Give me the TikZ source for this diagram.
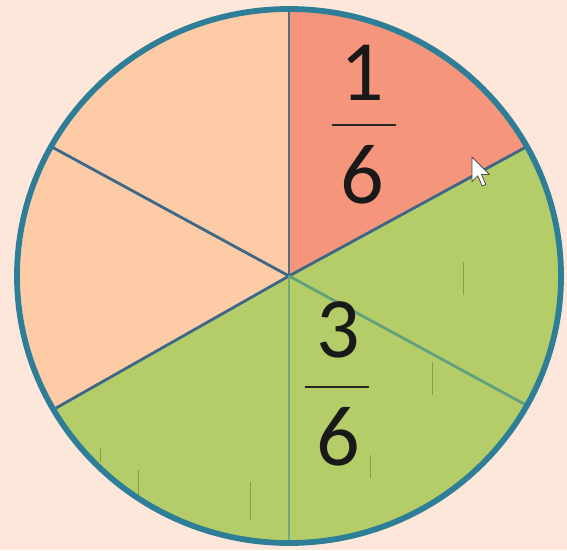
\documentclass[tikz,border=0pt]{standalone}
\usepackage{fontspec}
\setmainfont{Carlito}
\usetikzlibrary{calc}
\definecolor{bgc}{HTML}{FCE7DA}
\definecolor{peach}{HTML}{FDCBA5}
\definecolor{salmon}{HTML}{F5967C}
\definecolor{leaf}{HTML}{B5CD68}
\definecolor{rim}{HTML}{2F7E98}
\definecolor{spokedark}{HTML}{3D6788}
\definecolor{spokegreen}{HTML}{6FAA78}
\definecolor{tick}{HTML}{7C8A3A}
\tikzset{
  spoke/.style={line width=2.8pt},
  fracnum/.style={inner sep=0pt, font=\fontsize{86}{90}\selectfont, text=black!90},
  tickmark/.style={draw=tick, line width=0.9pt, opacity=0.7},
}
\begin{document}
\begin{tikzpicture}[x=1pt,y=1pt]
\fill[bgc] (0,0) rectangle (567,550);
\useasboundingbox (0,0) rectangle (567,550);
\coordinate (c) at (289,274);
\def\rx{272}
\def\ry{267}
% sectors
\fill[peach] (c) -- ++(90:{\rx} and {\ry}) arc[start angle=90, end angle=210, x radius=\rx, y radius=\ry] -- cycle;
\fill[salmon] (c) -- ++(29:{\rx} and {\ry}) arc[start angle=29, end angle=90, x radius=\rx, y radius=\ry] -- cycle;
\fill[leaf] (c) -- ++(210:{\rx} and {\ry}) arc[start angle=210, end angle=389, x radius=\rx, y radius=\ry] -- cycle;
% artifact ticks
\draw[tickmark] (463,288) -- (463,255);
\draw[tickmark] (432,188) -- (432,155);
\draw[tickmark] (370,95) -- (370,72);
\draw[tickmark] (250,68) -- (250,30);
\draw[tickmark] (138,80) -- (138,52);
\draw[tickmark] (100,102) -- (100,88);
% spokes
\coordinate (top) at ($(c)+(90:{\rx} and {\ry})$);
\coordinate (bot) at ($(c)+(-90:{\rx} and {\ry})$);
\coordinate (ul) at ($(c)+(151:{\rx} and {\ry})$);
\coordinate (ur) at ($(c)+(29:{\rx} and {\ry})$);
\coordinate (ll) at ($(c)+(210:{\rx} and {\ry})$);
\coordinate (lr) at ($(c)+(-29:{\rx} and {\ry})$);
\draw[spoke, draw=spokedark!70!gray] (c) -- (top);
\draw[spoke, draw=spokedark] (c) -- (ul);
\draw[spoke, draw=spokedark] (c) -- (ur);
\draw[spoke, draw=spokedark] (c) -- (ll);
\draw[spoke, draw=spokegreen] (c) -- (bot);
\draw[spoke, draw=spokegreen!80!rim] (c) -- (lr);
% rim
\draw[rim, line width=5.8pt] (c) ellipse[x radius=\rx, y radius=\ry];
% fractions
\node[fracnum] (n1) at (362,477) {1};
\draw[line width=2.2pt, black!85] (332,425) -- (396,425);
\node[fracnum] (d1) at (362,375) {6};
\node[fracnum] (n3) at (338,220) {3};
\draw[line width=2.2pt, black!85] (305,163) -- (369,163);
\node[fracnum] (d3) at (338,113) {6};
% cursor
\begin{scope}[shift={(472,393)}, xscale=1.45, yscale=-1.45]
\draw[fill=white, draw=black!70, line width=0.8pt, line join=round]
  (0,0) -- (0,17) -- (4,13) -- (7,20) -- (9.5,19) -- (6.5,12) -- (12,12) -- cycle;
\end{scope}
\end{tikzpicture}
\end{document}
